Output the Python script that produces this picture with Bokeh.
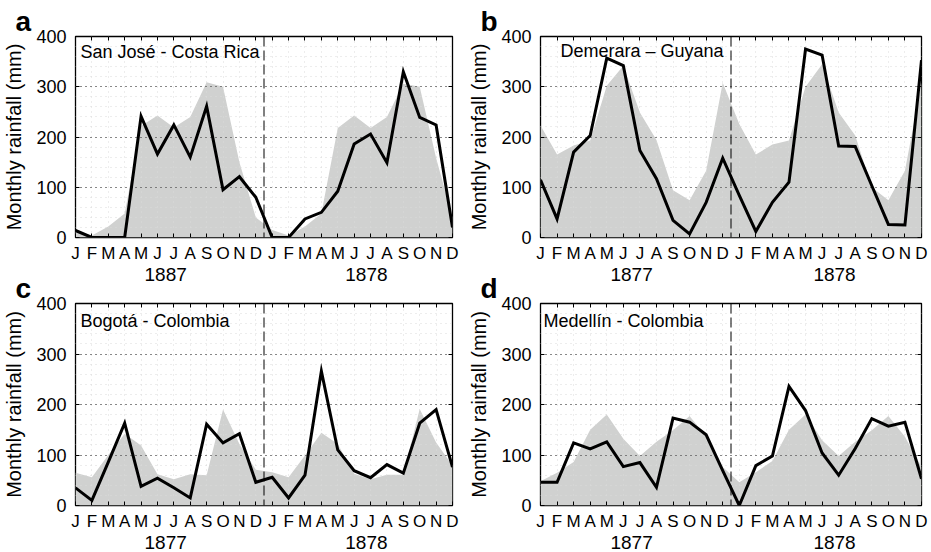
from bokeh.plotting import figure
from bokeh.layouts import column, row
from bokeh.models import FixedTicker, SingleIntervalTicker, LinearAxis, Span, Label, Range1d, Title
from bokeh.embed import file_html
from bokeh.resources import INLINE

FONT = "Liberation Sans"

month_labels = ["J", "F", "M", "A", "M", "J", "J", "A", "S", "O", "N", "D"]

# Panel a: San José - Costa Rica
sanjose_obs = [14, 0, 0, 0, 241, 166, 224, 160, 261, 95, 121, 80,
               0, 0, 37, 50, 92, 186, 206, 149, 330, 239, 224, 20]
sanjose_clim = [12, 4, 22, 48, 222, 243, 219, 240, 309, 300, 150, 40,
                15, 4, 22, 48, 218, 243, 218, 240, 306, 300, 158, 40]
sanjose_years = ["1887", "1878"]

# Panel b: Demerara - Guyana
demerara_obs = [115, 37, 170, 203, 357, 342, 173, 117, 34, 7, 70, 158,
                84, 12, 70, 110, 375, 363, 182, 181, 103, 26, 25, 353]
demerara_clim = [223, 165, 183, 193, 302, 342, 249, 194, 94, 74, 133, 308,
                 226, 165, 185, 193, 300, 345, 249, 203, 100, 74, 133, 308]
demerara_years = ["1877", "1878"]

# Panel c: Bogotá - Colombia
bogota_obs = [35, 10, 86, 163, 38, 54, 35, 15, 161, 124, 142, 46,
              56, 15, 60, 266, 110, 69, 55, 81, 64, 163, 190, 76]
bogota_clim = [65, 56, 100, 142, 119, 62, 52, 62, 60, 190, 122, 71,
               66, 56, 99, 144, 122, 63, 52, 61, 61, 191, 125, 79]
bogota_years = ["1877", "1878"]

# Panel d: Medellín - Colombia
medellin_obs = [46, 46, 124, 112, 126, 77, 85, 36, 173, 165, 140, 69,
                0, 79, 98, 236, 188, 104, 60, 113, 172, 157, 165, 53]
medellin_clim = [48, 65, 86, 150, 180, 132, 98, 126, 149, 177, 136, 76,
                 46, 66, 88, 150, 180, 129, 98, 126, 149, 177, 136, 76]
medellin_years = ["1877", "1878"]

x_idx = list(range(2 * len(month_labels)))
tick_labels = {i: month_labels[i % 12] for i in x_idx}
year_pos = [5.5, 17.75]


def panel(letter, station, obs, clim, years, w, h, bl, br, bt, bb, tx, ty, transparent):
    p = figure(width=w, height=h, x_range=Range1d(0, 23), y_range=Range1d(0, 400),
               output_backend="svg", toolbar_location=None,
               min_border_left=bl, min_border_right=br,
               min_border_top=bt, min_border_bottom=bb)
    p.background_fill_color = "white"
    p.border_fill_color = "white"
    if transparent:
        p.border_fill_alpha = 0
    p.outline_line_color = "black"
    p.outline_line_width = 1.3

    xt = FixedTicker(ticks=x_idx)
    yt = SingleIntervalTicker(interval=100, num_minor_ticks=5)

    p.xaxis.ticker = xt
    p.xaxis.major_label_overrides = tick_labels
    p.yaxis.ticker = yt
    p.xgrid.ticker = xt
    p.ygrid.ticker = yt

    for ax in (p.xaxis, p.yaxis):
        ax.axis_line_color = None
        ax.major_tick_in = 4
        ax.major_tick_out = 0
        ax.major_tick_line_color = "black"
        ax.minor_tick_line_color = None
        ax.major_label_text_font = FONT
        ax.major_label_text_color = "black"
    p.xaxis.major_label_text_font_size = "17px"
    p.xaxis.major_label_standoff = 6
    p.yaxis.major_label_text_font_size = "18px"
    p.yaxis.major_label_standoff = 5
    p.yaxis.axis_label = "Monthly rainfall (mm)"
    p.yaxis.axis_label_text_font = FONT
    p.yaxis.axis_label_text_font_size = "20px"
    p.yaxis.axis_label_text_font_style = "normal"
    p.yaxis.axis_label_text_color = "black"
    p.yaxis.axis_label_standoff = 8

    # year labels on a second bottom axis
    yr_axis = LinearAxis(ticker=FixedTicker(ticks=year_pos),
                         major_label_overrides={pos: yr for pos, yr in zip(year_pos, years)},
                         axis_line_color=None, major_tick_line_color=None,
                         minor_tick_line_color=None, major_tick_in=0, major_tick_out=0,
                         major_label_standoff=2, major_label_text_font=FONT,
                         major_label_text_font_size="19px", major_label_text_color="black")
    p.add_layout(yr_axis, "below")

    top = LinearAxis(ticker=xt, major_label_text_color=None, axis_line_color=None,
                     major_tick_in=4, major_tick_out=0, minor_tick_line_color=None,
                     major_label_standoff=0)
    right = LinearAxis(ticker=yt, major_label_text_color=None, axis_line_color=None,
                       major_tick_in=4, major_tick_out=0, minor_tick_line_color=None,
                       major_label_standoff=0)
    p.add_layout(top, "above")
    p.add_layout(right, "right")

    p.add_layout(Title(text=letter, align="left", offset=-60, standoff=0,
                       text_font=FONT, text_font_size="28px", text_font_style="bold",
                       text_color="black"), "above")

    p.xgrid.grid_line_color = "#dadada"
    p.xgrid.grid_line_dash = "1 4"
    p.ygrid.grid_line_color = "#222222"
    p.ygrid.grid_line_dash = "1 4"
    p.ygrid.minor_grid_line_color = "#dadada"
    p.ygrid.minor_grid_line_dash = "1 4"

    p.varea(x=x_idx, y1=[0] * len(x_idx), y2=clim, fill_color="#d0d1d0", level="image")
    p.line(x_idx, obs, line_color="black", line_width=3, line_join="miter")

    p.add_layout(Span(location=len(month_labels) - 0.5, dimension="height",
                      line_color="black", line_width=1, line_dash="10 4"))

    p.add_layout(Label(x=tx, y=ty, text=station, text_font=FONT, text_font_size="18px",
                       text_baseline="alphabetic", text_color="black"))
    return p


pa = panel("a", "San José - Costa Rica", sanjose_obs, sanjose_clim, sanjose_years,
           465, 285, 69, 13, 36, 48, 0.30, 369, False)
pb = panel("b", "Demerara \u2013 Guyana", demerara_obs, demerara_clim, demerara_years,
           466, 285, 72, 10, 36, 48, 1.20, 372, False)
pc = panel("c", "Bogotá - Colombia", bogota_obs, bogota_clim, bogota_years,
           465, 285, 69, 13, 36, 47, 0.30, 366, True)
pd_ = panel("d", "Medellín - Colombia", medellin_obs, medellin_clim, medellin_years,
            466, 285, 72, 10, 36, 47, 0.18, 366, True)

layout = column(row(pa, pb), row(pc, pd_, margin=(-18, 0, 0, 0)))

open("out.html", "w").write(file_html(layout, INLINE))
